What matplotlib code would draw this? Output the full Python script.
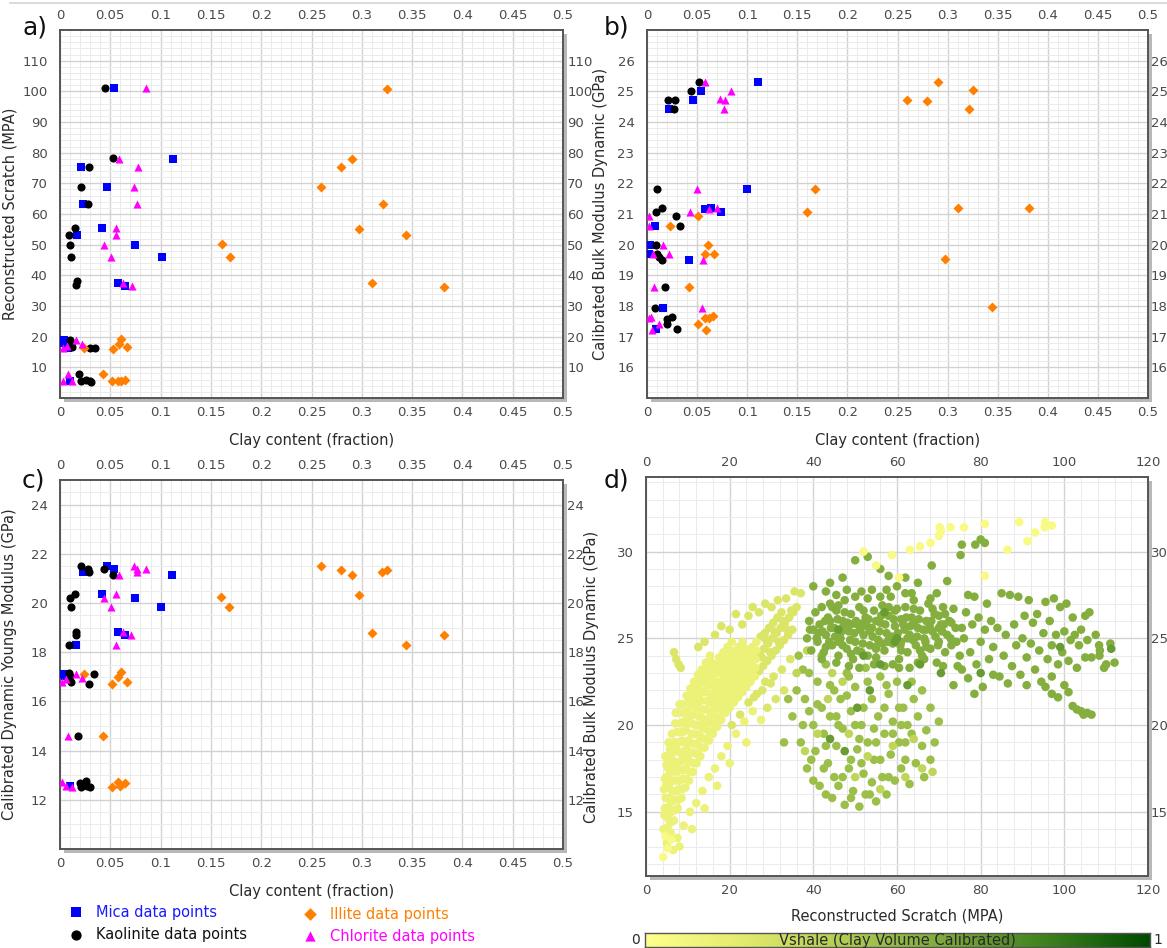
import numpy as np
import matplotlib
matplotlib.use("Agg")
import matplotlib.pyplot as plt
from matplotlib.colors import LinearSegmentedColormap
from matplotlib.ticker import MultipleLocator, FormatStrFormatter
from matplotlib.patches import Rectangle
from matplotlib.lines import Line2D

# ---------------------------------------------------------------- data
# a) Reconstructed scratch (MPA) vs clay content (fraction)
mica_a_x = [0.054, 0.112, 0.021, 0.047, 0.023, 0.042, 0.017, 0.075, 0.101, 0.058, 0.065, 0.004, 0.003, 0.008, 0.010]
mica_a_y = [101, 78, 75.4, 68.7, 63.2, 55.3, 53.1, 50, 46.1, 37.5, 36.4, 19, 17.8, 16.3, 5.5]
kaol_a_x = [0.045, 0.053, 0.029, 0.021, 0.028, 0.015, 0.009, 0.010, 0.011, 0.016, 0.017, 0.010, 0.011, 0.012, 0.030, 0.035, 0.019, 0.021, 0.026, 0.030, 0.031]
kaol_a_y = [101, 78.1, 75.4, 68.7, 63.2, 55.3, 53.1, 50, 46.1, 37.0, 38.0, 19, 17.5, 16.5, 16.2, 16.4, 7.9, 5.6, 5.8, 5.6, 5.3]
chlo_a_x = [0.085, 0.059, 0.078, 0.074, 0.077, 0.056, 0.056, 0.044, 0.051, 0.063, 0.072, 0.016, 0.022, 0.003, 0.007, 0.008, 0.003, 0.012]
chlo_a_y = [101, 78, 75.4, 68.7, 63.2, 55.3, 53.1, 50, 46.1, 37.5, 36.4, 19, 17.6, 16.3, 16.8, 7.8, 5.5, 5.5]
illi_a_x = [0.325, 0.290, 0.279, 0.259, 0.321, 0.297, 0.344, 0.310, 0.382, 0.161, 0.169, 0.024, 0.053, 0.059, 0.061, 0.067, 0.043, 0.052, 0.058, 0.061, 0.065]
illi_a_y = [100.8, 78, 75.3, 68.7, 63.2, 55, 53.2, 37.4, 36.1, 50.3, 46.1, 16.3, 16, 17.6, 19.3, 16.7, 7.8, 5.6, 5.4, 5.5, 5.9]

# b) Calibrated bulk modulus dynamic (GPa) vs clay content
mica_b_x = [0.111, 0.054, 0.046, 0.022, 0.100, 0.058, 0.064, 0.074, 0.008, 0.003, 0.002, 0.042, 0.016, 0.009]
mica_b_y = [25.3, 25.0, 24.73, 24.43, 21.83, 21.15, 21.2, 21.08, 20.62, 20.0, 19.68, 19.51, 17.93, 17.24]
kaol_b_x = [0.052, 0.044, 0.021, 0.028, 0.027, 0.010, 0.009, 0.015, 0.029, 0.033, 0.009, 0.010, 0.012, 0.015, 0.018, 0.008, 0.020, 0.025, 0.020, 0.030]
kaol_b_y = [25.3, 25.0, 24.73, 24.73, 24.43, 21.83, 21.08, 21.2, 20.94, 20.62, 20.0, 19.68, 19.6, 19.5, 18.63, 17.93, 17.58, 17.65, 17.42, 17.24]
chlo_b_x = [0.058, 0.084, 0.073, 0.078, 0.077, 0.050, 0.062, 0.070, 0.043, 0.002, 0.002, 0.016, 0.006, 0.022, 0.056, 0.007, 0.055, 0.002, 0.004, 0.012, 0.005]
chlo_b_y = [25.3, 25.0, 24.75, 24.72, 24.43, 21.83, 21.17, 21.2, 21.08, 20.94, 20.62, 20.0, 19.68, 19.68, 19.51, 18.63, 17.93, 17.6, 17.65, 17.42, 17.22]
illi_b_x = [0.290, 0.259, 0.279, 0.325, 0.321, 0.310, 0.381, 0.297, 0.344, 0.168, 0.160, 0.051, 0.023, 0.061, 0.058, 0.067, 0.042, 0.058, 0.062, 0.066, 0.051, 0.059]
illi_b_y = [25.30, 24.73, 24.69, 25.04, 24.44, 21.18, 21.20, 19.54, 17.96, 21.83, 21.08, 20.94, 20.62, 20.0, 19.68, 19.68, 18.63, 17.6, 17.6, 17.67, 17.42, 17.22]

# c) Calibrated dynamic Youngs modulus (GPa) vs clay content
mica_c_x = [0.047, 0.023, 0.054, 0.111, 0.042, 0.075, 0.100, 0.058, 0.065, 0.016, 0.003, 0.005, 0.010]
mica_c_y = [21.49, 21.25, 21.37, 21.15, 20.37, 20.21, 19.83, 18.81, 18.7, 18.28, 17.13, 17.02, 12.55]
kaol_c_x = [0.021, 0.028, 0.029, 0.044, 0.053, 0.015, 0.010, 0.011, 0.016, 0.016, 0.009, 0.009, 0.010, 0.011, 0.034, 0.029, 0.018, 0.020, 0.021, 0.026, 0.027, 0.030]
kaol_c_y = [21.49, 21.39, 21.25, 21.37, 21.15, 20.37, 20.21, 19.83, 18.81, 18.7, 18.28, 17.17, 17.02, 16.8, 17.13, 16.7, 14.58, 12.7, 12.52, 12.75, 12.58, 12.52]
chlo_c_x = [0.074, 0.059, 0.077, 0.077, 0.085, 0.056, 0.044, 0.051, 0.063, 0.071, 0.056, 0.016, 0.002, 0.006, 0.022, 0.008, 0.002, 0.006, 0.012]
chlo_c_y = [21.5, 21.15, 21.37, 21.25, 21.37, 20.37, 20.21, 19.83, 18.81, 18.7, 18.28, 17.13, 16.8, 16.9, 16.95, 14.58, 12.71, 12.58, 12.52]
illi_c_x = [0.259, 0.279, 0.290, 0.320, 0.325, 0.297, 0.310, 0.344, 0.382, 0.160, 0.168, 0.024, 0.052, 0.058, 0.061, 0.067, 0.043, 0.052, 0.058, 0.060, 0.065]
illi_c_y = [21.49, 21.36, 21.15, 21.26, 21.36, 20.33, 18.8, 18.28, 18.69, 20.24, 19.83, 17.13, 16.7, 17.0, 17.2, 16.8, 14.58, 12.52, 12.71, 12.58, 12.68]

# d) Bulk modulus vs reconstructed scratch, coloured by Vshale.
# Each block lists "scratch,bulk" pairs sharing one Vshale level.
scratch_bulk_pale = """
52.0,30.0 58.8,29.8 63.1,30.1 65.5,30.3 68.0,30.5 70.0,30.9 70.5,31.2 70.2,31.4 72.8,31.4
76.0,31.4 81.0,31.6 89.2,31.7 95.4,31.7 95.3,31.4 97.0,31.5 93.0,31.1 91.2,30.6 86.4,30.1
81.0,28.6 55.0,29.2 60.5,28.5 4.1,12.4 5.2,12.9 6.0,13.4 4.6,13.6
"""
vshale_pale = 0.05

scratch_bulk_yellow = """
4.2,14.0 4.5,15.2 4.3,16.3 4.8,17.0 4.6,18.2 5.0,13.2 5.3,14.6 5.5,15.8 5.2,16.9 5.6,18.0
5.4,19.0 5.9,13.8 6.1,15.0 6.3,16.2 6.0,17.3 6.4,18.4 6.2,19.5 6.7,14.5 6.9,15.7 7.1,16.8
6.8,17.9 7.2,19.0 7.0,20.1 7.6,15.2 7.8,16.3 8.0,17.4 7.7,18.5 8.1,19.6 7.9,20.7 8.5,15.8
8.7,16.9 8.9,18.0 8.6,19.1 9.0,20.2 8.8,21.2 9.4,16.4 9.6,17.5 9.8,18.6 9.5,19.7 9.9,20.8
9.7,21.7 10.3,16.8 10.5,17.9 10.7,19.0 10.4,20.1 10.8,21.2 10.6,22.1 11.2,17.3 11.4,18.4
11.6,19.5 11.3,20.6 11.7,21.6 11.5,22.5 12.1,17.8 12.3,18.9 12.5,20.0 12.2,21.0 12.6,22.0
12.4,22.9 13.0,18.2 13.2,19.3 13.4,20.4 13.1,21.4 13.5,22.4 13.3,23.2 14.0,18.7 14.2,19.8
14.4,20.9 14.1,21.9 14.5,22.8 14.3,23.6 15.0,19.1 15.2,20.2 15.4,21.3 15.1,22.3 15.5,23.2
15.3,24.0 16.0,19.5 16.2,20.6 16.4,21.6 16.1,22.6 16.5,23.5 17.0,19.9 17.2,21.0 17.4,22.0
17.1,23.0 17.5,23.9 18.0,20.3 18.2,21.4 18.4,22.4 18.1,23.3 18.5,24.2 19.0,20.7 19.2,21.7
19.4,22.7 19.1,23.6 19.5,24.5 20.0,21.0 20.2,22.0 20.4,23.0 20.1,23.9 20.5,24.8 21.0,21.3
21.2,22.3 21.4,23.3 21.1,24.2 22.0,21.6 22.2,22.6 22.4,23.6 22.1,24.5 23.0,21.9 23.2,22.9
23.4,23.9 23.1,24.8 24.0,22.2 24.2,23.2 24.4,24.2 25.0,22.5 25.2,23.5 25.4,24.5 26.0,22.8
26.2,23.8 26.4,24.8 6.5,12.8 7.5,13.5 9.0,14.2 10.5,15.0 12.0,15.5 13.5,16.2 15.0,17.0
16.5,17.5 18.0,18.2 19.5,18.8 21.5,19.5 23.5,20.2 25.5,20.8 14.0,15.2 17.0,16.5 20.0,17.8
11.0,14.0 8.0,13.0 24.0,19.0 27.5,20.3 4.9,16.6 5.7,17.5 6.6,18.9 7.4,17.6 8.3,18.4 9.2,19.0
10.1,18.4 11.0,20.1 12.8,21.5 13.8,20.0 15.7,21.8 16.8,22.3 18.8,21.0 19.8,23.2 21.7,22.8
4.4,14.8 4.7,15.8 4.5,16.9 4.9,17.7 5.1,14.1 5.4,15.3 5.6,16.4 5.3,17.5 5.7,18.6 6.0,14.4
6.2,15.6 6.4,16.8 6.1,17.9 6.5,19.0 6.9,15.1 7.1,16.2 7.3,17.3 7.0,18.5 7.4,19.6 7.1,20.7
7.8,15.7 8.0,16.8 8.2,17.9 7.9,19.0 8.3,20.1 8.0,21.2 8.7,16.3 8.9,17.4 9.1,18.5 8.8,19.6
9.2,20.7 9.6,16.9 9.8,18.0 10.0,19.1 9.7,20.2 10.1,21.3 10.5,17.3 10.7,18.4 10.9,19.5
10.6,20.6 11.0,21.7 11.4,17.8 11.6,18.9 11.8,20.0 11.5,21.1 11.9,22.1 12.3,18.3 12.5,19.4
12.7,20.5 12.4,21.5 12.8,22.5 13.2,18.7 13.4,19.8 13.6,20.9 13.3,21.9 13.7,22.9 14.2,19.2
14.4,20.3 14.6,21.4 14.3,22.4 14.7,23.3 15.2,19.6 15.4,20.7 15.6,21.8 15.3,22.8 15.7,23.6
16.2,20.0 16.4,21.1 16.6,22.1 16.3,23.1 17.2,20.4 17.4,21.5 17.6,22.5 17.3,23.5 18.2,20.8
18.4,21.9 18.6,22.9 18.3,23.8 19.2,21.2 19.4,22.2 19.6,23.2 19.3,24.1 20.2,21.5 20.4,22.5
20.6,23.5 20.3,24.3 21.2,21.8 21.4,22.8 21.6,23.8 22.2,22.1 22.4,23.1 22.6,24.1 23.2,22.4
23.4,23.4 23.6,24.4 24.2,22.7 24.4,23.7 25.2,23.0 25.4,24.0 26.2,23.3 26.4,24.3
"""
vshale_yellow = 0.13

scratch_bulk_yellowgreen = """
27.0,23.1 27.2,24.1 27.4,25.1 28.0,23.4 28.2,24.4 28.4,25.3 29.0,23.7 29.2,24.7 29.4,25.6
30.0,24.0 30.2,25.0 30.4,25.9 31.0,24.3 31.2,25.3 31.4,26.2 32.0,24.6 32.2,25.6 32.4,26.5
33.0,24.9 33.2,25.9 34.0,25.2 34.2,26.2 35.0,25.5 35.2,26.5 36.0,26.8 30.5,22.8 32.5,23.2
34.5,23.8 28.5,22.5 26.5,21.8 24.5,21.3 22.5,20.6 20.5,20.0 29.0,21.0 31.0,21.5 33.0,22.0
6.7,24.2 7.2,23.8 7.8,23.5 8.3,23.3 12.5,24.5 14.0,24.8 18.0,25.7 20.0,25.5 23.0,25.8
24.5,26.3 25.5,26.8 27.0,26.5 28.5,27.0 30.0,26.8 31.5,27.2 33.5,27.3 35.5,27.7 37.0,27.6
16.5,25.2 21.5,26.4 27.7,23.9 28.7,24.9 29.7,24.2 30.7,25.4 31.7,24.8 32.7,26.0 33.7,25.5
34.7,26.6 29.8,22.4 27.8,22.0 25.8,21.6
"""
vshale_yellowgreen = 0.23

scratch_bulk_lightgreen = """
43.5,21.5 47.0,22.5 50.0,17.0 53.0,18.2 56.0,16.3 59.0,18.8 62.0,17.0 64.0,19.2 66.0,17.5
68.5,17.3 48.5,19.5 38.0,18.5 41.0,19.5 36.0,23.0 38.5,24.3 44.5,23.0
"""
vshale_lightgreen = 0.33

scratch_bulk_midgreen = """
35.0,20.5 36.0,22.0 37.0,19.0 38.0,21.5 38.5,17.5 39.0,23.0 40.0,20.0 40.5,18.5 41.0,22.5
41.5,16.5 42.0,21.0 42.5,19.5 43.0,23.5 43.5,17.8 44.0,20.5 44.5,15.8 45.0,22.0 45.5,18.8
46.0,16.5 46.5,21.5 47.0,19.8 47.5,15.4 48.0,23.0 48.5,17.5 49.0,20.8 49.5,16.2 50.0,22.2
50.5,18.6 51.0,15.3 51.5,20.0 52.0,17.2 52.5,23.3 53.0,19.0 53.5,16.0 54.0,21.5 54.5,18.0
55.0,15.6 55.5,20.5 56.0,22.8 56.5,17.0 57.0,19.5 57.5,16.0 58.0,21.8 58.5,18.3 59.0,20.2
59.5,16.8 60.0,22.5 60.5,19.0 61.0,17.5 61.5,21.0 62.0,18.0 62.5,20.0 63.0,16.6 63.5,19.5
64.0,21.5 64.5,17.8 65.0,20.5 66.0,18.8 66.5,17.0 67.0,19.7 68.0,18.0 69.0,19.0 70.0,20.2
39.0,20.8 43.0,18.8 46.0,20.0 49.0,18.0 52.0,21.0 55.0,19.0 58.0,17.0 61.0,20.0 45.0,17.0
48.0,21.7 51.0,19.2 54.0,16.7 57.0,21.0 36.5,24.0 33.0,19.0 34.0,21.5 37.5,23.2 42.0,24.0
37.5,20.0 39.5,18.0 41.0,21.2 42.5,17.5 44.0,22.3 45.5,20.5 47.0,17.0 48.5,22.8 50.0,20.0
51.5,17.8 53.0,22.5 54.5,19.8 56.0,18.0 57.5,22.3 59.0,19.5 60.5,21.0 62.0,19.0 63.5,22.5
66.0,22.0 68.0,21.0 40.0,16.8 43.0,16.0 49.0,15.8 52.5,16.0
"""
vshale_midgreen = 0.47

scratch_bulk_green = """
38.5,25.0 39.0,26.0 39.5,24.3 40.0,25.5 40.5,26.5 41.0,24.8 41.5,25.8 42.0,26.8 42.5,24.2
43.0,25.2 43.5,26.2 44.0,27.0 44.5,24.6 45.0,25.6 45.5,26.6 46.0,24.0 46.5,25.0 47.0,26.0
47.5,27.2 48.0,24.4 48.5,25.4 49.0,26.4 49.5,23.8 50.0,24.8 50.5,25.8 51.0,26.8 51.5,24.2
52.0,25.2 52.5,26.2 53.0,27.3 53.5,24.6 54.0,25.6 54.5,26.6 55.0,23.9 55.5,24.9 56.0,25.9
56.5,26.9 57.0,24.3 57.5,25.3 58.0,26.3 58.5,27.4 59.0,24.7 59.5,25.7 60.0,26.7 60.5,23.8
61.0,24.8 61.5,25.8 62.0,26.8 62.5,24.2 63.0,25.2 63.5,26.2 64.0,27.2 64.5,24.6 65.0,25.6
65.5,26.6 66.0,24.0 66.5,25.0 67.0,26.0 67.5,27.0 68.0,24.4 68.5,25.4 69.0,26.4 69.5,23.6
70.0,24.8 70.5,25.8 71.0,26.8 71.5,24.2 72.0,25.2 72.5,26.0 73.0,24.6 74.0,25.6 75.0,24.0
39.2,25.5 40.8,25.0 42.2,25.4 43.8,24.8 45.2,25.1 46.8,25.4 48.2,25.9 49.8,25.3 51.2,25.5
52.8,25.7 54.2,25.1 55.8,25.4 57.2,25.8 58.8,25.1 60.2,25.3 61.8,25.5 63.2,25.7 64.8,25.1
66.2,25.5 67.8,25.7 69.2,25.1 70.8,25.4 44.0,26.0 47.0,24.6 50.0,27.4 53.0,24.0 56.0,27.4
59.0,23.5 62.0,27.6 65.0,23.6 68.0,27.3 71.0,23.4 46.0,26.9 49.0,24.1 52.0,26.6 55.0,24.4
58.0,26.8 61.0,24.3 64.0,26.7 67.0,24.5 70.0,26.3 73.0,25.9 45.5,23.6 51.0,23.3 57.0,23.4
63.0,23.3 48.0,27.8 54.0,27.8 60.0,28.0 43.0,27.7
41.2,25.3 42.8,26.0 44.2,25.6 45.8,26.1 47.2,25.7 48.8,24.9 50.2,26.0 51.8,24.7 53.2,26.1
54.8,24.5 56.2,26.3 57.8,24.8 59.2,26.1 60.8,24.6 62.2,26.2 63.8,24.9 65.2,26.1 66.8,24.8
68.2,26.0 69.8,24.6 71.2,25.8 72.8,25.0 74.2,24.8 43.0,24.5 46.0,24.8 49.0,25.8 52.0,25.9
55.0,26.0 58.0,24.9 61.0,26.1 64.0,25.9 67.0,25.5 70.0,25.6 44.5,26.8 47.5,26.5 50.5,24.3
53.5,25.4 56.5,24.7 59.5,26.6 62.5,25.0 65.5,24.3 68.5,26.7 71.5,26.4 48.5,23.4 54.5,23.5
60.5,23.3 66.5,23.8 42.0,23.8 57.5,27.8 63.5,27.6 51.5,27.7 45.5,27.5 69.5,27.6 73.5,26.7
75.5,25.6 74.5,23.4
76.0,25.0 76.5,26.5 77.0,27.5 77.5,24.2 78.0,25.8 78.5,27.4 79.0,23.5 79.5,26.2 80.0,24.8
81.0,25.5 81.5,27.0 82.0,23.8 82.5,26.0 83.0,24.5 84.0,25.6 84.5,22.8 85.0,27.6 85.5,24.0
86.0,25.2 87.0,27.5 87.5,23.4 88.0,25.8 88.5,24.6 89.0,27.4 89.5,22.9 90.0,25.0 90.5,26.3
91.0,23.9 91.5,27.2 92.0,24.7 92.5,25.9 93.0,23.2 93.5,26.4 94.0,24.3 95.0,25.3 95.5,27.1
96.0,23.8 96.5,26.0 97.0,24.6 97.5,27.3 98.0,25.2 98.5,23.5 99.0,26.8 99.5,24.2 100.0,25.4
100.5,27.0 101.0,23.7 101.5,24.9 102.0,26.2 102.5,25.2 103.0,23.3 103.5,24.6 104.0,25.5
105.0,26.3 105.5,24.9 106.0,26.5 106.5,23.9 107.5,25.2 108.3,24.6 108.4,24.0 108.5,24.3
109.5,23.3 110.0,23.5 111.0,24.7 112.0,23.6 105.0,23.9 77.0,22.7 80.5,22.2 83.0,22.9
86.5,22.4 91.0,22.3 94.5,22.5 97.0,22.8 73.5,22.3 75.5,23.2 78.5,21.8
95.5,22.2 97.0,21.8 98.5,21.6 100.0,22.3 101.0,21.9 102.0,21.1 103.0,20.9 104.0,20.8
104.6,20.6 105.5,20.7 106.5,20.6
47.0,28.5 50.0,29.5 53.0,29.7 56.0,29.0 58.0,28.6 65.0,28.2 68.3,29.2 72.0,28.3 75.2,29.8
75.5,30.4 78.7,30.4 80.0,30.7 81.0,30.5 44.0,28.2 40.0,28.0 62.0,28.5
"""
vshale_green = 0.56

scratch_bulk_darkgreen = """
44.0,19.2 47.5,18.5 50.5,21.0 53.5,22.0 56.0,23.5 59.5,24.8 62.5,22.3 65.5,23.5 57.0,26.5
60.0,25.0 46.0,25.5 52.0,24.0 70.5,23.0 80.0,23.0 111.2,24.4 99.0,24.5
"""
vshale_darkgreen = 0.66

vshale_colors = ["#ffff8c", "#e2ea6c", "#aecb52", "#7aa83a", "#3e801e", "#004a00"]

# ---------------------------------------------------------------- layout
W, H = 1167, 948
fig = plt.figure(figsize=(W / 100, H / 100), dpi=100)
fig.patch.set_facecolor("white")

TICK_C = "#4a4a4a"
LABEL_C = "#2a2a2a"
TICK_FS = 9.5

# thin frame line along the top of the sheet
fig.lines.append(Line2D([10 / W, 1], [1 - 3 / H, 1 - 3 / H], transform=fig.transFigure,
                        color="#d4d4d4", lw=1.2))


def box(l, t, r, b):
    return [l / W, 1 - b / H, (r - l) / W, (b - t) / H]


def add_shadow(l, t, r, b):
    fig.patches.append(Rectangle(((l + 4) / W, 1 - (b + 4) / H), (r - l) / W, (b - t) / H,
                                 transform=fig.transFigure, facecolor="#b8b8b8",
                                 edgecolor="none", zorder=-5))


def style(ax, xlim, ylim, xmaj, xmin, yticks, ymin_step, right_pad=3):
    ax.set_xlim(*xlim)
    ax.set_ylim(*ylim)
    ax.xaxis.set_major_locator(MultipleLocator(xmaj))
    ax.xaxis.set_minor_locator(MultipleLocator(xmin))
    ax.set_yticks(yticks)
    ax.yaxis.set_minor_locator(MultipleLocator(ymin_step))
    ax.xaxis.set_major_formatter(FormatStrFormatter("%g"))
    ax.yaxis.set_major_formatter(FormatStrFormatter("%g"))
    ax.grid(which="major", color="#d2d2d2", lw=1.0)
    ax.grid(which="minor", color="#ebebeb", lw=0.7)
    ax.set_axisbelow(True)
    ax.tick_params(which="both", length=0, top=True, right=False, labeltop=True,
                   labelright=False, labelsize=TICK_FS, colors=TICK_C)
    ax.tick_params(axis="x", pad=6)
    ax.tick_params(axis="y", pad=9)
    for sp in ax.spines.values():
        sp.set_color("#555555")
        sp.set_linewidth(1.4)
    ax.set_facecolor("white")
    # right-hand copy of the value labels, set closer to the frame
    tw = ax.twinx()
    tw.set_ylim(*ylim)
    tw.set_yticks(yticks)
    tw.yaxis.set_major_formatter(FormatStrFormatter("%g"))
    tw.tick_params(length=0, labelsize=TICK_FS, colors=TICK_C, pad=right_pad)
    for sp in tw.spines.values():
        sp.set_visible(False)
    return tw


def minerals(ax, mx, my, kx, ky, ix, iy, cx, cy):
    ax.scatter(mx, my, marker="s", s=30, c="#0000ff", lw=0, zorder=3)
    ax.scatter(kx, ky, marker="o", s=34, c="#000000", lw=0, zorder=3)
    ax.scatter(ix, iy, marker="D", s=26, c="#ff8000", lw=0, zorder=3)
    ax.scatter(cx, cy, marker="^", s=34, c="#ff00ff", lw=0, zorder=3)


# a)
pa = (60, 30, 563, 398)
add_shadow(*pa)
ax_a = fig.add_axes(box(*pa))
style(ax_a, (0, 0.5), (0, 120), 0.05, 0.01, np.arange(10, 111, 10), 2)
minerals(ax_a, mica_a_x, mica_a_y, kaol_a_x, kaol_a_y, illi_a_x, illi_a_y, chlo_a_x, chlo_a_y)
ax_a.set_xlabel("Clay content (fraction)", fontsize=10.5, color=LABEL_C)
ax_a.set_ylabel("Reconstructed Scratch (MPA)", fontsize=10.5, color=LABEL_C)
ax_a.xaxis.set_label_coords(0.5, -0.095)
ax_a.yaxis.set_label_coords(-0.085, 0.5)

# b)
pb = (647, 30, 1148, 398)
add_shadow(*pb)
ax_b = fig.add_axes(box(*pb))
style(ax_b, (0, 0.5), (15, 27), 0.05, 0.01, np.arange(16, 27, 1), 0.2, right_pad=2)
minerals(ax_b, mica_b_x, mica_b_y, kaol_b_x, kaol_b_y, illi_b_x, illi_b_y, chlo_b_x, chlo_b_y)
ax_b.set_xlabel("Clay content (fraction)", fontsize=10.5, color=LABEL_C)
ax_b.set_ylabel("Calibrated Bulk Modulus Dynamic (GPa)", fontsize=10.5, color=LABEL_C)
ax_b.xaxis.set_label_coords(0.5, -0.095)
ax_b.yaxis.set_label_coords(-0.077, 0.5)

# c)
pc = (60, 480, 563, 849)
add_shadow(*pc)
ax_c = fig.add_axes(box(*pc))
style(ax_c, (0, 0.5), (10, 25), 0.05, 0.01, np.arange(12, 25, 2), 0.5)
minerals(ax_c, mica_c_x, mica_c_y, kaol_c_x, kaol_c_y, illi_c_x, illi_c_y, chlo_c_x, chlo_c_y)
ax_c.set_xlabel("Clay content (fraction)", fontsize=10.5, color=LABEL_C)
ax_c.set_ylabel("Calibrated Dynamic Youngs Modulus (GPa)", fontsize=10.5, color=LABEL_C)
ax_c.xaxis.set_label_coords(0.5, -0.095)
ax_c.yaxis.set_label_coords(-0.085, 0.5)

# d)
cmap = LinearSegmentedColormap.from_list("vshale", vshale_colors)
pd_ = (646, 477, 1148, 876)
add_shadow(*pd_)
ax_d = fig.add_axes(box(*pd_))
style(ax_d, (0, 120), (11.3, 34.3), 20, 4, np.arange(15, 31, 5), 1, right_pad=2)


def parse_pairs(text):
    vals = np.array([[float(v) for v in tok.split(",")] for tok in text.split()])
    return vals[:, 0], vals[:, 1]


groups = [
    (scratch_bulk_midgreen, vshale_midgreen),
    (scratch_bulk_lightgreen, vshale_lightgreen),
    (scratch_bulk_green, vshale_green),
    (scratch_bulk_darkgreen, vshale_darkgreen),
    (scratch_bulk_yellowgreen, vshale_yellowgreen),
    (scratch_bulk_yellow, vshale_yellow),
    (scratch_bulk_pale, vshale_pale),
]
for text, v in groups:
    gx, gy = parse_pairs(text)
    ax_d.scatter(gx, gy, c=np.full(len(gx), v), cmap=cmap, vmin=0, vmax=1,
                 s=38, lw=0, zorder=3)
ax_d.set_xlabel("Reconstructed Scratch (MPA)", fontsize=10.5, color=LABEL_C)
ax_d.set_ylabel("Calibrated Bulk Modulus Dynamic (GPa)", fontsize=10.5, color=LABEL_C)
ax_d.xaxis.set_label_coords(0.5, -0.082)
ax_d.yaxis.set_label_coords(-0.094, 0.5)

# colour bar for Vshale
ax_cb = fig.add_axes(box(645, 933, 1150, 947))
grad = np.linspace(0, 1, 256)[None, :]
ax_cb.imshow(grad, aspect="auto", cmap=cmap, extent=(0, 1, 0, 1))
ax_cb.set_xticks([])
ax_cb.set_yticks([])
for sp in ax_cb.spines.values():
    sp.set_color("#555555")
    sp.set_linewidth(1.0)
ax_cb.text(0.5, 0.45, "Vshale (Clay Volume Calibrated)", ha="center", va="center",
           fontsize=10.5, color=LABEL_C, transform=ax_cb.transAxes)
fig.text(636 / W, 1 - 940 / H, "0", ha="center", va="center", fontsize=10, color=LABEL_C)
fig.text(1158 / W, 1 - 940 / H, "1", ha="center", va="center", fontsize=10, color=LABEL_C)

# panel letters
for lbl, (px, py) in {"a)": (22, 28), "b)": (604, 28), "c)": (22, 480), "d)": (604, 480)}.items():
    fig.text(px / W, 1 - py / H, lbl, fontsize=18, color="#111111", ha="left", va="center")

# legend for the mineral series
ax_leg = fig.add_axes([0, 0, 600 / W, 90 / H])
ax_leg.set_xlim(0, 600)
ax_leg.set_ylim(948, 858)
ax_leg.axis("off")
legend_items = [
    ("s", "#0000ff", "Mica data points", "#1a1aff", 76, 912, 30),
    ("o", "#000000", "Kaolinite data points", "#111111", 76, 935, 34),
    ("D", "#ff8000", "Illite data points", "#ff8000", 310, 914, 26),
    ("^", "#ff00ff", "Chlorite data points", "#ff00ff", 310, 936, 34),
]
for mk, col, txt, tcol, lx, ly, sz in legend_items:
    ax_leg.scatter([lx], [ly], marker=mk, s=sz * 1.6, c=col, lw=0)
    ax_leg.text(lx + 20, ly, txt, color=tcol, fontsize=10.5, va="center", ha="left")

fig.savefig("out.png", dpi=100, facecolor=fig.get_facecolor())
